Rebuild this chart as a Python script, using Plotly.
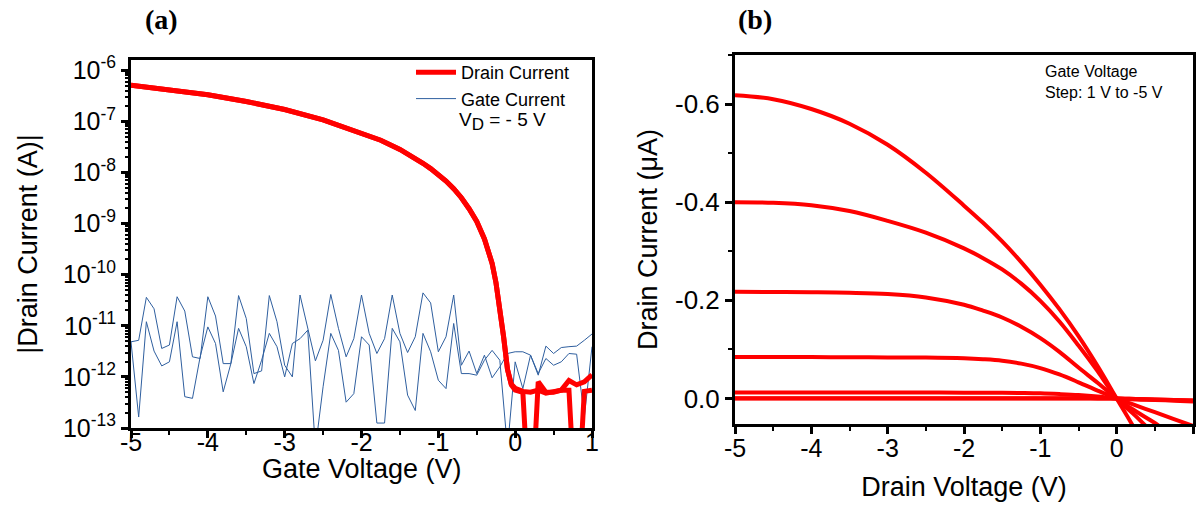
import plotly.graph_objects as go

# ---------------- Panel (a): transfer curve, V_D = -5 V ----------------
gate_v = [-5.0, -4.9, -4.8, -4.7, -4.6, -4.5, -4.4, -4.3, -4.2, -4.1,
          -4.0, -3.9, -3.8, -3.7, -3.6, -3.5, -3.4, -3.3, -3.2, -3.1,
          -3.0, -2.9, -2.8, -2.7, -2.6, -2.5, -2.4, -2.3, -2.2, -2.1,
          -2.0, -1.9, -1.8, -1.7, -1.6, -1.5, -1.4, -1.3, -1.2, -1.1,
          -1.0, -0.9, -0.8, -0.7, -0.6, -0.5, -0.4, -0.3, -0.2, -0.1,
          0.0, 0.1, 0.2, 0.3, 0.4, 0.5, 0.6, 0.7, 0.8, 0.9, 1.0]

gate_current_fwd = [4.85e-12, 5.2e-12, 3.6e-11, 2.15e-11, 3.6e-12, 4.2e-12, 3.7e-11, 1.94e-11, 2.47e-12, 2.29e-12,
                    3.7e-11, 1.55e-11, 1.82e-12, 1.82e-12, 3.9e-11, 1.39e-11, 1.16e-12, 1.31e-12, 3.9e-11, 1.2e-11,
                    1.69e-12, 1.0e-12, 4.0e-11, 9.5e-12, 2.06e-12, 5.2e-12, 4.1e-11, 8.9e-12, 2.47e-12, 5.6e-12,
                    4.0e-11, 7.1e-12, 2.87e-12, 5.6e-12, 4.0e-11, 7.1e-12, 3.0e-12, 6.1e-12, 4.4e-11, 2.8e-11,
                    3.1e-12, 6.1e-12, 4.0e-11, 1.69e-12, 3.2e-12, 1.16e-12, 2.66e-12, 9.6e-13, 1.57e-12, 2.87e-12,
                    3.1e-12, 3.1e-12, 2.66e-12, 1.08e-12, 4.0e-12, 2.87e-12, 3.75e-12, 3.9e-12, 4.0e-12, 5.2e-12,
                    6.9e-12]

gate_current_rev = [4.85e-12, 1.64e-13, 1.2e-11, 3.2e-12, 1.64e-12, 1.97e-12, 1.2e-11, 4.1e-13, 3.8e-13, 2.47e-12,
                    9.5e-12, 4.5e-12, 5.1e-13, 1.82e-12, 8.9e-12, 3.9e-12, 7.4e-13, 2.12e-12, 7.1e-12, 3.9e-12,
                    1.0e-12, 4.5e-12, 5.6e-12, 8.2e-12, 4.0e-14, 6.4e-13, 7.1e-12, 3.3e-12, 3.2e-13, 4.7e-13,
                    6.1e-12, 4.2e-12, 1.25e-13, 1.25e-13, 8.9e-12, 4.85e-12, 4.4e-13, 2.2e-13, 7.1e-12, 3.1e-12,
                    8.6e-13, 5.9e-13, 1.11e-11, 1.16e-12, 1.16e-12, 1.08e-12, 2.12e-12, 3.3e-12, 2.12e-12, 4.0e-14,
                    1.97e-12, 5.9e-13, 2.66e-12, 1.16e-12, 2.29e-12, 1.69e-12, 1.97e-12, 2.87e-12, 2.78e-12, 1.64e-13,
                    3.9e-12]

drain_v = [-5.0, -4.5, -4.0, -3.5, -3.0, -2.5, -2.0, -1.75,
           -1.5, -1.4, -1.3, -1.2, -1.1, -1.0, -0.9, -0.8, -0.7, -0.6,
           -0.5, -0.4, -0.3, -0.25, -0.2, -0.15, -0.1, -0.05, 0.0,
           0.1, 0.2, 0.3, 0.4, 0.5, 0.6, 0.7, 0.8, 0.9, 1.0]

drain_current_fwd = [5.1e-7, 4.22e-7, 3.31e-7, 2.45e-7, 1.70e-7, 1.07e-7, 6.0e-8, 4.27e-8,
                     2.82e-8, 2.32e-8, 1.88e-8, 1.51e-8, 1.19e-8, 9.1e-9, 6.8e-9, 4.8e-9, 3.2e-9, 1.95e-9,
                     1.1e-9, 5.0e-10, 1.66e-10, 7.0e-11, 2.3e-11, 6.0e-12, 1.4e-12, 7.0e-13, 5.5e-13,
                     5.0e-13, 1e-15, 8.0e-13, 5.0e-13, 5.0e-13, 5.5e-13, 5.5e-13, 1e-15, 5.2e-13, 5.5e-13]

drain_current_rev = [5.1e-7, 4.22e-7, 3.31e-7, 2.45e-7, 1.70e-7, 1.07e-7, 6.0e-8, 4.27e-8,
                     2.82e-8, 2.32e-8, 1.88e-8, 1.51e-8, 1.19e-8, 9.1e-9, 6.8e-9, 4.8e-9, 3.2e-9, 1.95e-9,
                     1.1e-9, 5.0e-10, 1.66e-10, 7.0e-11, 2.3e-11, 6.0e-12, 1.4e-12, 7.2e-13, 6.0e-13,
                     5.2e-13, 5.0e-13, 5.5e-13, 4.8e-13, 5.0e-13, 5.5e-13, 8.5e-13, 7.0e-13, 8.0e-13, 1.1e-12]

a_xtick_vals = [-5, -4, -3, -2, -1, 0, 1]
a_xtick_text = ["-5", "-4", "-3", "-2", "-1", "0", "1"]
a_ytick_vals = [1e-13, 1e-12, 1e-11, 1e-10, 1e-9, 1e-8, 1e-7, 1e-6]
a_ytick_text = ["10<sup>-13</sup>", "10<sup>-12</sup>", "10<sup>-11</sup>", "10<sup>-10</sup>",
                "10<sup>-9</sup>", "10<sup>-8</sup>", "10<sup>-7</sup>", "10<sup>-6</sup>"]

# ---------------- Panel (b): output curves ----------------
vd = [-5.0, -4.5, -4.0, -3.5, -3.0, -2.5, -2.0, -1.75, -1.5, -1.25,
      -1.0, -0.75, -0.5, -0.25, 0.0, 0.25, 0.5, 0.75, 1.0]
id_vg_m5 = [-0.618, -0.610, -0.590, -0.560, -0.517, -0.460, -0.393, -0.358, -0.320, -0.278,
            -0.232, -0.182, -0.127, -0.066, 0.0, 0.066, 0.14, 0.22, 0.30]
id_vg_m4 = [-0.400, -0.399, -0.394, -0.382, -0.362, -0.338, -0.306, -0.286, -0.263, -0.234,
            -0.199, -0.157, -0.108, -0.056, 0.0, 0.036, 0.075, 0.12, 0.165]
id_vg_m3 = [-0.2175, -0.217, -0.2165, -0.2155, -0.213, -0.206, -0.191, -0.179, -0.165, -0.146,
            -0.123, -0.095, -0.063, -0.032, 0.0, 0.026, 0.050, 0.078, 0.108]
id_vg_m2 = [-0.0846, -0.0845, -0.0843, -0.084, -0.0837, -0.0833, -0.0818, -0.080, -0.077, -0.071,
            -0.062, -0.049, -0.033, -0.016, 0.0, 0.014, 0.028, 0.042, 0.056]
id_vg_m1 = [-0.0122, -0.0122, -0.0121, -0.0121, -0.012, -0.012, -0.0119, -0.0118, -0.0116, -0.0112,
            -0.0105, -0.009, -0.007, -0.004, 0.0, 0.002, 0.003, 0.0045, 0.006]
id_vg_0 = [-0.0005, -0.0005, -0.0005, -0.0005, -0.0005, -0.0005, -0.0005, -0.0005, -0.0005, -0.0005,
           -0.0004, -0.0003, -0.0003, -0.0002, 0.0, 0.001, 0.002, 0.003, 0.004]
id_vg_p1 = [0.0002, 0.0002, 0.0002, 0.0002, 0.0002, 0.0002, 0.0002, 0.0002, 0.0002, 0.0002,
            0.0002, 0.0002, 0.0002, 0.0001, 0.0, 0.001, 0.002, 0.003, 0.004]
output_curves = [id_vg_p1, id_vg_0, id_vg_m1, id_vg_m2, id_vg_m3, id_vg_m4, id_vg_m5]

b_xtick_vals = [-5, -4, -3, -2, -1, 0, 1]
b_xtick_text = ["-5", "-4", "-3", "-2", "-1", "0", "1"]
b_ytick_vals = [-0.6, -0.4, -0.2, 0.0]
b_ytick_text = ["-0.6", "-0.4", "-0.2", "0.0"]

RED = "#ff0000"
BLUE = "#2f5f9f"
FONT = "Liberation Sans, Arial, sans-serif"
W, H = 1196, 506

fig = go.Figure()

# gate currents (drawn first, under the red)
fig.add_trace(go.Scatter(x=gate_v, y=gate_current_fwd, mode="lines", name="Gate Current",
                         line=dict(color=BLUE, width=1), xaxis="x", yaxis="y", legendrank=2))
fig.add_trace(go.Scatter(x=gate_v, y=gate_current_rev, mode="lines", name="Gate Current",
                         line=dict(color=BLUE, width=1), xaxis="x", yaxis="y", showlegend=False))
fig.add_trace(go.Scatter(x=drain_v, y=drain_current_rev, mode="lines", name="Drain Current",
                         line=dict(color=RED, width=5), xaxis="x", yaxis="y", showlegend=False))
fig.add_trace(go.Scatter(x=drain_v, y=drain_current_fwd, mode="lines", name="Drain Current",
                         line=dict(color=RED, width=5), xaxis="x", yaxis="y", legendrank=1))

for curve in output_curves:
    fig.add_trace(go.Scatter(x=vd, y=curve, mode="lines",
                             line=dict(color=RED, width=4, shape="spline", smoothing=1.0),
                             xaxis="x2", yaxis="y2", showlegend=False))

axis_common = dict(showline=True, linecolor="black", linewidth=3, mirror=True,
                   ticks="outside", tickcolor="black", tickwidth=2.5, ticklen=7,
                   showgrid=False, zeroline=False, automargin=False,
                   tickfont=dict(family=FONT, size=25, color="black"))

xa = dict(axis_common)
xa.update(domain=[131 / W, 592 / W], range=[-5, 1], tickmode="array",
          tickvals=a_xtick_vals, ticktext=a_xtick_text, anchor="y", ticklabelstandoff=-17,
          minor=dict(ticks="outside", ticklen=4, tickwidth=2, tickcolor="black", dtick=0.5, tick0=0))
ya = dict(axis_common)
ya.update(domain=[1 - 428 / H, 1 - 60 / H], type="log", range=[-13, -5.8], tickmode="array",
          tickvals=a_ytick_vals, ticktext=a_ytick_text, anchor="x",
          tickfont=dict(family=FONT, size=25, color="black"),
          minor=dict(ticks="outside", ticklen=3, tickwidth=1.5, tickcolor="black", dtick="D1"),
          title=dict(text="|Drain Current (A)|", font=dict(family=FONT, size=27, color="black"), standoff=18))
xb = dict(axis_common)
xb.update(domain=[735 / W, 1193 / W], range=[-5, 1], tickmode="array",
          tickvals=b_xtick_vals, ticktext=b_xtick_text, anchor="y2", ticklabelstandoff=-7,
          minor=dict(ticks="outside", ticklen=4, tickwidth=2, tickcolor="black", dtick=0.5, tick0=0),
          title=dict(text="Drain Voltage (V)", font=dict(family=FONT, size=27, color="black"), standoff=17))
yb = dict(axis_common)
yb.update(domain=[1 - 424 / H, 1 - 55 / H], range=[0.052, -0.7], tickmode="array",
          tickvals=b_ytick_vals, ticktext=b_ytick_text, anchor="x2",
          tickfont=dict(family=FONT, size=26, color="black"),
          minor=dict(ticks="outside", ticklen=4, tickwidth=2, tickcolor="black", dtick=0.1, tick0=0),
          title=dict(text="Drain Current (\u03bcA)", font=dict(family=FONT, size=27, color="black"), standoff=10))

fig.update_layout(
    width=W, height=H,
    margin=dict(l=0, r=0, t=0, b=0),
    paper_bgcolor="white", plot_bgcolor="white",
    font=dict(family=FONT, color="black"),
    xaxis=xa, yaxis=ya, xaxis2=xb, yaxis2=yb,
    legend=dict(x=411 / W, y=1 - 54 / H, xanchor="left", yanchor="top",
                bgcolor="rgba(0,0,0,0)", borderwidth=0, tracegroupgap=0,
                font=dict(family=FONT, size=18, color="black"), itemwidth=40),
    annotations=[
        dict(text="Gate Voltage (V)", x=362 / W, y=1 - 469 / H, xref="paper", yref="paper",
             xanchor="center", yanchor="middle", showarrow=False,
             font=dict(family=FONT, size=27, color="black")),
        dict(text="V<sub><span style='font-size:17px'>D</span></sub> = - 5 V", x=457 / W, y=1 - 122 / H,
             xref="paper", yref="paper", xanchor="left", yanchor="middle", showarrow=False,
             font=dict(family=FONT, size=19, color="black")),
        dict(text="Gate Voltage<br>Step: 1 V to -5 V", x=1043 / W, y=1 - 61 / H, xref="paper", yref="paper",
             xanchor="left", yanchor="top", align="left", showarrow=False,
             font=dict(family=FONT, size=16, color="black")),
        dict(text="<b>(a)</b>", x=161 / W, y=1 - 20 / H, xref="paper", yref="paper",
             xanchor="center", yanchor="middle", showarrow=False,
             font=dict(family="Liberation Serif, Times New Roman, serif", size=28, color="black")),
        dict(text="<b>(b)</b>", x=755 / W, y=1 - 20 / H, xref="paper", yref="paper",
             xanchor="center", yanchor="middle", showarrow=False,
             font=dict(family="Liberation Serif, Times New Roman, serif", size=28, color="black")),
    ],
)

fig.write_html("out.html")
